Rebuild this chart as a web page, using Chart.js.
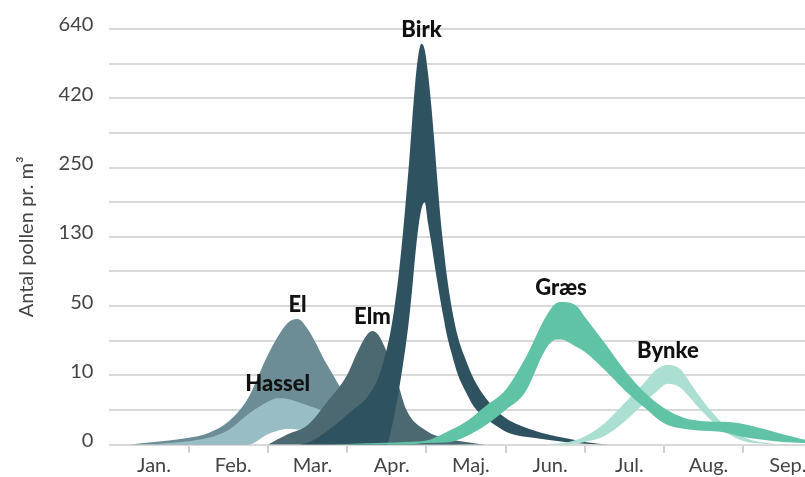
<!DOCTYPE html>
<html lang="da">
<head>
<meta charset="utf-8">
<title>Pollensæson</title>
<script src="https://cdn.jsdelivr.net/npm/chart.js@4.4.1/dist/chart.umd.min.js"></script>
<style>
  html, body { margin: 0; padding: 0; background: #fff; overflow: hidden; }
  #wrap { width: 863px; height: 477px; }
</style>
</head>
<body>
<div id="wrap"><canvas id="pollenChart" width="863" height="477"></canvas></div>
<script>
// Pollensæson: antal pollen pr. m3 gennem året

const months = ['Jan.', 'Feb.', 'Mar.', 'Apr.', 'Maj.', 'Jun.', 'Jul.', 'Aug.', 'Sep.'];
const yTickValues = [0, 10, 50, 130, 250, 420, 640];

// x = måneder fra 1. januar, værdier = pollen pr. m3 (øvre / nedre kant af båndet)
const elX = [0.25, 0.5, 0.75, 1.0, 1.25, 1.5, 1.75, 2.0, 2.25, 2.375, 2.5, 2.75, 3.0, 3.25, 3.5, 3.75, 4.0, 4.5];
const elHigh = [0, 0.3, 0.6, 1.0, 1.7, 3.3, 6.7, 21.8, 40.2, 42.6, 37, 16, 6.8, 3.4, 1.8, 1.0, 0.5, 0];
const elLow = [0, 0, 0, 0, 0, 0, 0, 2.0, 3.0, 3.0, 2.8, 2.0, 1.0, 0.4, 0, 0, 0, 0];

const hasselX = [0.5, 0.75, 1.0, 1.25, 1.5, 1.75, 2.0, 2.125, 2.25, 2.5, 2.75, 3.0, 3.25, 3.5, 3.75, 4.0, 4.5];
const hasselHigh = [0, 0.25, 0.5, 1.0, 2.1, 4.4, 6.2, 6.7, 6.6, 5.7, 4.6, 3.0, 1.7, 1.0, 0.5, 0.25, 0];
const hasselLow = [0, 0, 0, 0, 0, 0, 1.5, 2.0, 2.3, 2.0, 1.4, 0.75, 0.3, 0, 0, 0, 0];

const elmX = [2.0, 2.25, 2.5, 2.75, 3.0, 3.125, 3.25, 3.32, 3.4, 3.5, 3.625, 3.75, 4.0, 4.25, 4.5, 4.75];
const elmHigh = [0, 1.5, 2.8, 6.2, 10.2, 23, 33.4, 35.6, 33, 23.6, 9.5, 5.0, 2.0, 0.9, 0.4, 0];
const elmLow = [0, 0, 0, 0, 0, 0, 0, 0, 0, 0, 0, 0, 0, 0, 0, 0];

const birkX = [2.4, 2.55, 2.8, 3.05, 3.25, 3.4, 3.5, 3.55, 3.6, 3.65, 3.7, 3.74, 3.78, 3.82, 3.86, 3.9, 3.94, 3.98,
    4.02, 4.06, 4.1, 4.14, 4.18, 4.22, 4.26, 4.32, 4.4, 4.5, 4.6, 4.75, 4.9, 5.05, 5.35, 5.75, 6.0, 6.3];
const birkHigh = [0, 0.5, 2.4, 4.8, 6.8, 9.85, 25, 35.6, 50, 85, 129.4, 190, 256, 359.6, 468, 557.5, 593, 574,
    503.6, 409, 318, 227, 161.8, 116, 84.8, 49.4, 32, 18.8, 9.5, 6.75, 4.8, 3.5, 2.1, 0.95, 0.4, 0];
const birkLow = [0, 0, 0, 0, 0, 0, 0, 1.8, 4.5, 7.6, 14.6, 27, 41.4, 68, 108, 146.8, 179, 190,
    155, 124.8, 100.8, 77.6, 55.6, 42.8, 33.2, 22.6, 10.2, 7.6, 5.5, 3.8, 2.6, 1.65, 1.0, 0.4, 0.15, 0];

const graesX = [2.75, 3.25, 3.75, 4.0, 4.25, 4.5, 4.75, 5.0, 5.25, 5.5, 5.625, 5.7, 5.9, 6.0, 6.25, 6.5, 6.75, 7.0,
    7.25, 7.5, 7.75, 8.0, 8.25, 8.5, 8.75, 9.0, 9.5];
const graesHigh = [0, 0.2, 0.4, 0.6, 1.8, 3.3, 5.6, 7.9, 20, 43.2, 52.4, 54.8, 50, 43.8, 28.8, 13.2, 7.6, 5.3,
    3.9, 3.4, 3.3, 3.0, 2.3, 1.5, 0.8, 0.4, 0];
const graesLow = [0, 0, 0, 0.25, 0.3, 1.2, 2.8, 5.0, 7.6, 24.6, 30.6, 30.8, 26.4, 23.6, 13.2, 7.9, 5.4, 3.1,
    2.3, 2.0, 1.8, 1.1, 0.7, 0.4, 0.25, 0.1, 0];

const bynkeX = [5.5, 5.75, 6.0, 6.25, 6.5, 6.75, 6.9, 7.05, 7.2, 7.35, 7.5, 7.75, 8.0, 8.25, 8.5];
const bynkeHigh = [0, 0.3, 1.2, 3.1, 6.0, 8.9, 13.2, 16, 13.8, 8.6, 6.2, 3.0, 1.1, 0.3, 0];
const bynkeLow = [0, 0, 0.4, 1.25, 3.3, 6.0, 7.6, 8.8, 8.3, 6.5, 4.6, 2.0, 0.55, 0.15, 0];

// aksen er ikke lineær: hvert mærke (0, 10, 50 ...) ligger med samme afstand
const toAxis = (p) => {
    for (let i = 0; i < yTickValues.length - 1; i++) {
        const a = yTickValues[i], b = yTickValues[i + 1];
        if (p <= b) return 2 * i + 2 * (p - a) / (b - a);
    }
    return 2 * (yTickValues.length - 1);
};

const points = (xs, vals) => xs.map((x, i) => ({ x: x, y: toAxis(vals[i]) }));

// første i listen tegnes øverst
const species = [
    { name: 'Græs', color: '#60c3a6', x: graesX, high: graesHigh, low: graesLow },
    { name: 'Bynke', color: '#abdfd1', x: bynkeX, high: bynkeHigh, low: bynkeLow },
    { name: 'Birk', color: '#2f5260', x: birkX, high: birkHigh, low: birkLow },
    { name: 'Elm', color: '#4c6870', x: elmX, high: elmHigh, low: elmLow },
    { name: 'Hassel', color: '#99bdc5', x: hasselX, high: hasselHigh, low: hasselLow },
    { name: 'El', color: '#6d8d96', x: elX, high: elHigh, low: elLow }
];

const datasets = [];
species.forEach(s => {
    datasets.push({
        label: s.name, data: points(s.x, s.high), backgroundColor: s.color,
        borderWidth: 0, pointRadius: 0, fill: '+1', cubicInterpolationMode: 'monotone'
    });
    datasets.push({
        label: s.name + ' (lav)', data: points(s.x, s.low),
        borderWidth: 0, pointRadius: 0, fill: false, cubicInterpolationMode: 'monotone'
    });
});

// navnet skrives over toppen af hvert bånd
const peakLabels = {
    id: 'peakLabels',
    afterDatasetsDraw(chart) {
        const { ctx, scales } = chart;
        ctx.save();
        ctx.font = "900 22px Lato";
        ctx.fillStyle = '#111';
        ctx.textAlign = 'center';
        ctx.textBaseline = 'middle';
        species.forEach(s => {
            const i = s.high.indexOf(Math.max(...s.high));
            const px = scales.x.getPixelForValue(s.x[i]);
            const py = scales.y.getPixelForValue(toAxis(s.high[i]));
            ctx.fillText(s.name, px, py - 14);
        });
        ctx.restore();
    }
};

const axisFont = { family: 'Lato', size: 20 };

new Chart(document.getElementById('pollenChart'), {
    type: 'line',
    data: { datasets: datasets },
    options: {
        responsive: false,
        animation: false,
        layout: { padding: { top: 29, left: 0, right: 0, bottom: 0 } },
        plugins: { legend: { display: false }, tooltip: { enabled: false } },
        scales: {
            x: {
                type: 'linear', min: 0, max: 9.5,
                afterBuildTicks: (scale) => {
                    scale.ticks = [];
                    for (let k = 0; k <= 19; k++) scale.ticks.push({ value: k / 2 });
                },
                afterFit: (scale) => { scale.height = 32.3; },
                border: { display: false },
                grid: {
                    drawOnChartArea: false, tickLength: 8, lineWidth: 2,
                    color: (c) => (c.tick && Number.isInteger(c.tick.value) && c.tick.value > 0) ? '#cfcfcf' : 'rgba(0,0,0,0)'
                },
                ticks: {
                    autoSkip: false, maxRotation: 0, minRotation: 0, padding: 1, labelOffset: 5,
                    color: '#444', font: axisFont,
                    callback: (v) => (v % 1 === 0.5 && months[Math.floor(v)]) ? months[Math.floor(v)] : ''
                }
            },
            y: {
                min: 0, max: 12,
                afterBuildTicks: (scale) => {
                    scale.ticks = [];
                    for (let k = 0; k <= 12; k++) scale.ticks.push({ value: k });
                },
                afterFit: (scale) => { scale.width = 109.4; },
                border: { display: false },
                grid: { color: '#d9d9d9', lineWidth: 2, drawTicks: false },
                ticks: {
                    padding: 16, labelOffset: -4, color: '#444', font: axisFont,
                    callback: (v) => v % 2 === 0 ? String(yTickValues[v / 2]) : ''
                },
                title: {
                    display: true, text: 'Antal pollen pr. m³', color: '#444',
                    font: { family: 'Lato', size: 20 }, padding: { top: 15, bottom: 0 }
                }
            }
        }
    },
    plugins: [peakLabels]
});
</script>
</body>
</html>
